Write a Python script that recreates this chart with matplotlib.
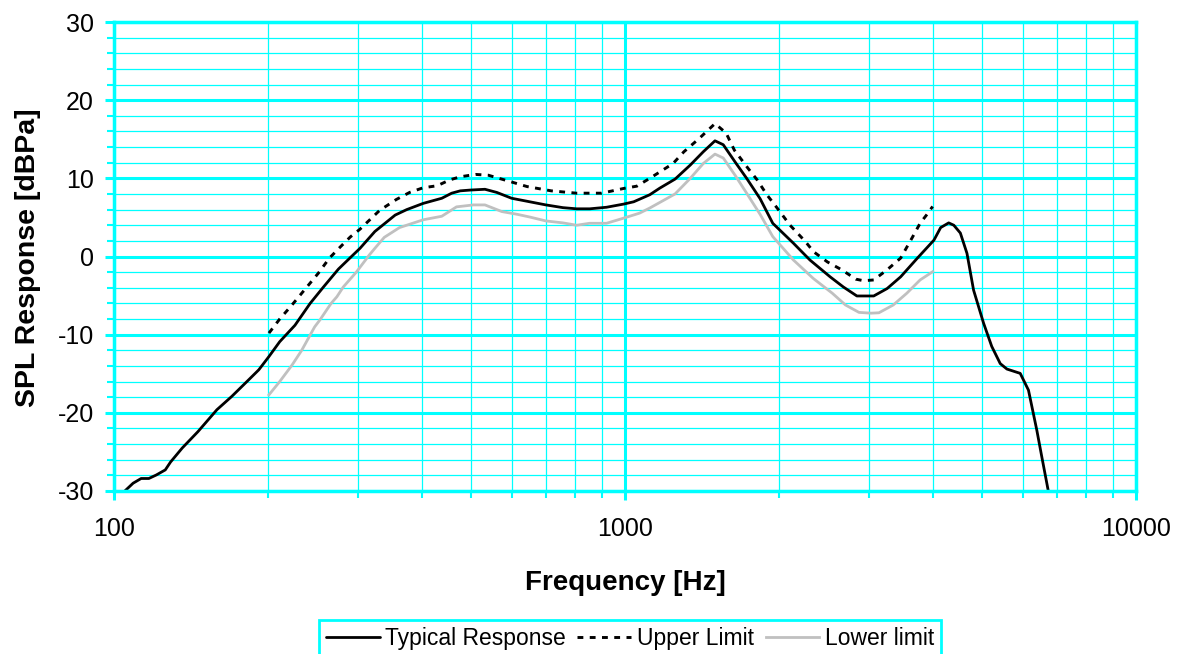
import matplotlib
matplotlib.use("Agg")
import matplotlib.pyplot as plt
from matplotlib.ticker import FixedLocator, NullFormatter
import numpy as np

plt.rcParams['font.family'] = ['Liberation Sans', 'DejaVu Sans']

# ---- data ----
typ_f = [105, 109, 113, 117, 121, 126, 129, 136, 146, 159, 170, 182, 192, 201, 211, 226,
         242, 257, 275, 303, 324, 355, 374, 403, 438, 458, 476, 498, 532, 561, 600, 651,
         700, 756, 804, 853, 920, 993, 1040, 1118, 1170, 1253, 1342, 1423, 1500, 1557,
         1642, 1730, 1838, 1946, 2136, 2301, 2520, 2675, 2843, 3067, 3258, 3463, 3735,
         4024, 4147, 4300, 4400, 4532, 4669, 4810, 5030, 5220, 5424, 5590, 5935, 6160,
         6395, 6540, 6740]
typ_db = [-30.0, -29.0, -28.4, -28.4, -27.95, -27.3, -26.3, -24.5, -22.4, -19.6, -17.9,
          -16.0, -14.5, -12.8, -10.9, -8.8, -6.0, -3.9, -1.6, 1.05, 3.2, 5.3, 6.0, 6.8,
          7.45, 8.1, 8.4, 8.5, 8.6, 8.2, 7.45, 7.0, 6.6, 6.25, 6.1, 6.1, 6.3, 6.7, 7.0,
          7.9, 8.75, 9.9, 11.7, 13.4, 14.8, 14.3, 12.1, 10.0, 7.4, 4.25, 1.7, -0.45,
          -2.6, -3.9, -5.05, -5.05, -4.1, -2.6, -0.2, 2.1, 3.7, 4.3, 4.0, 3.0, 0.4,
          -4.3, -8.5, -11.5, -13.7, -14.4, -14.95, -17.1, -22.2, -25.6, -30.1]

up_f = [201, 211, 223, 233, 251, 264, 277, 290, 303, 331, 357, 379, 403, 429, 454, 476,
        510, 540, 595, 643, 717, 804, 900, 993, 1055, 1118, 1242, 1304, 1397, 1500,
        1577, 1637, 1740, 1814, 1895, 1985, 2104, 2255, 2340, 2490, 2655, 2830, 2930,
        3067, 3258, 3463, 3640, 3780, 3890, 4000]
up_db = [-9.8, -8.0, -6.2, -4.7, -2.15, -0.2, 1.2, 2.5, 3.5, 5.9, 7.3, 8.2, 8.8, 9.05,
         9.8, 10.2, 10.5, 10.4, 9.6, 8.95, 8.4, 8.1, 8.1, 8.7, 9.0, 10.0, 11.9, 13.4,
         15.1, 17.0, 15.8, 13.6, 11.3, 9.8, 7.9, 6.2, 4.0, 1.9, 0.6, -0.7, -1.7, -2.9,
         -3.1, -3.0, -1.7, -0.2, 2.3, 4.25, 5.3, 6.4]

lo_f = [201, 211, 223, 233, 247, 253, 266, 273, 281, 298, 316, 324, 338, 362, 403, 438,
        468, 505, 532, 574, 615, 651, 700, 756, 804, 853, 920, 993, 1068, 1118, 1253,
        1342, 1423, 1500, 1557, 1642, 1730, 1838, 1946, 2136, 2335, 2545, 2700, 2870,
        3030, 3140, 3350, 3560, 3780, 4000]
lo_db = [-17.7, -16.0, -13.9, -12.0, -9.0, -8.1, -6.0, -5.15, -3.9, -2.0, 0.2, 1.05,
         2.45, 3.7, 4.7, 5.15, 6.35, 6.6, 6.6, 5.75, 5.4, 5.05, 4.55, 4.3, 4.0, 4.25,
         4.25, 4.9, 5.55, 6.2, 8.0, 10.0, 11.9, 13.1, 12.6, 10.4, 8.1, 5.4, 2.55,
         -0.45, -2.8, -4.7, -6.2, -7.15, -7.25, -7.2, -6.2, -4.7, -3.0, -1.95]

series_labels = ["Typical Response", "Upper Limit", "Lower limit"]
x_major = [100, 1000, 10000]
x_major_labels = ["100", "1000", "10000"]
y_major = [-30, -20, -10, 0, 10, 20, 30]
x_label = "Frequency [Hz]"
y_label = "SPL Response [dBPa]"

CYAN = "#00FFFF"

fig = plt.figure(figsize=(11.77, 6.54), dpi=100)
ax = fig.add_axes([114/1177, 1-491/654, (1136-114)/1177, (491-22)/654])

ax.set_xscale('log')
ax.set_xlim(100, 10000)
ax.set_ylim(-30, 30)

# grid
x_minor = [m * d for d in (100, 1000) for m in range(2, 10)]
y_minor = [v for v in range(-30, 31, 2) if v % 10 != 0]
ax.xaxis.set_major_locator(FixedLocator(x_major))
ax.xaxis.set_minor_locator(FixedLocator(x_minor))
ax.set_xticklabels(x_major_labels)
ax.xaxis.set_minor_formatter(NullFormatter())
ax.yaxis.set_major_locator(FixedLocator(y_major))
ax.yaxis.set_minor_locator(FixedLocator(y_minor))
ax.set_yticklabels([str(v) for v in y_major])

ax.grid(True, which='major', color=CYAN, linewidth=2.2)
ax.grid(True, which='minor', color=CYAN, linewidth=0.9)
ax.set_axisbelow(True)

for s in ax.spines.values():
    s.set_color(CYAN)
    s.set_linewidth(2.5)

ax.tick_params(axis='both', which='major', colors=CYAN, labelcolor='black',
               labelsize=18, width=2.2, length=6.5, direction='out')
ax.tick_params(axis='both', which='minor', colors=CYAN, width=1.5, length=5,
               direction='out')
ax.tick_params(axis='x', which='major', pad=12)
ax.tick_params(axis='y', which='major', pad=8)

ax.plot(typ_f, typ_db, color='black', linewidth=2.0, label=series_labels[0],
        solid_joinstyle='round', solid_capstyle='round')
ax.plot(up_f, up_db, color='black', linewidth=2.1, linestyle=(0, (2.0, 2.2)),
        label=series_labels[1])
ax.plot(lo_f, lo_db, color='#C0C0C0', linewidth=2.0, label=series_labels[2],
        solid_joinstyle='round')

fig.text(625/1177, 1-583/654, x_label, ha='center', va='center',
         fontsize=20, fontweight='bold')
fig.text(28/1177, 1-258/654, y_label, ha='center', va='center', rotation=90,
         fontsize=20.5, fontweight='bold')

leg = fig.legend(loc='upper center', bbox_to_anchor=(630/1177, 1-620/654),
                 bbox_transform=fig.transFigure, ncol=3, fontsize=16.5,
                 handlelength=2.35, handletextpad=0.25, columnspacing=0.5,
                 fancybox=False, framealpha=1, borderpad=0.3, borderaxespad=0)
leg.get_frame().set_edgecolor(CYAN)
leg.get_frame().set_linewidth(2)

fig.savefig("out.png", dpi=100)
